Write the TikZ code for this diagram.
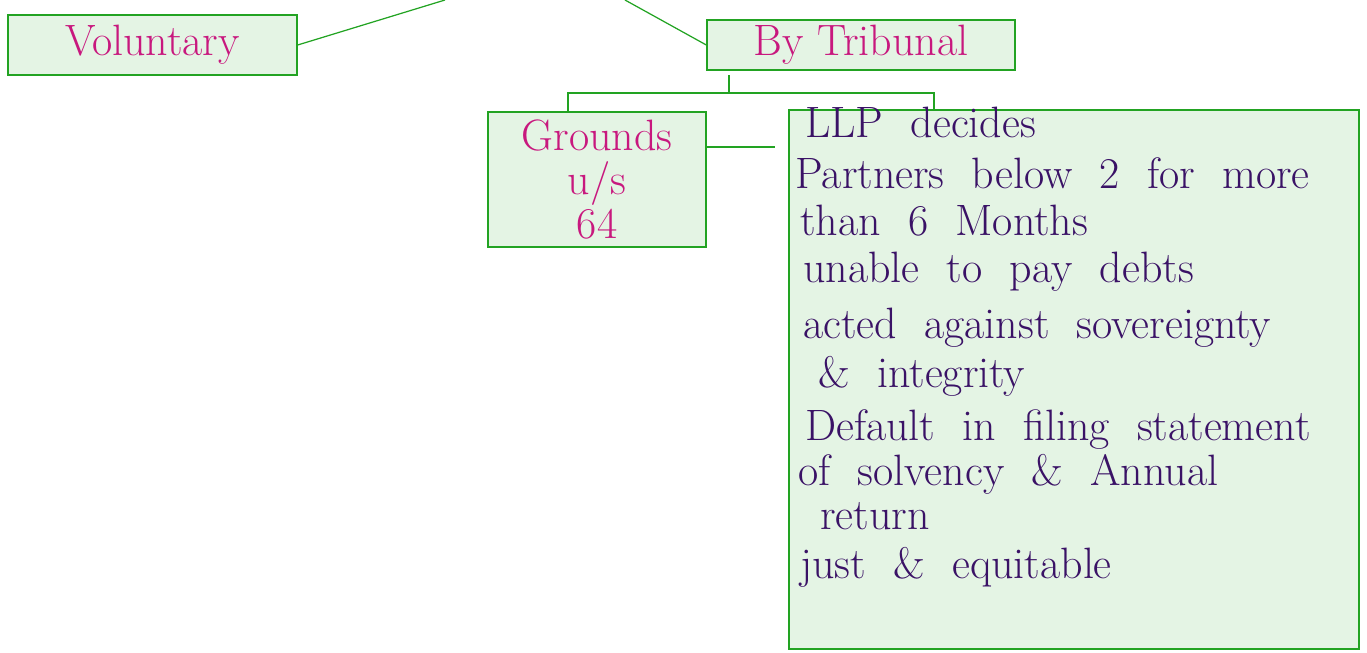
\documentclass[tikz,border=0pt]{standalone}
\usepackage{tikz}
\usepackage{xcolor}

\definecolor{boxgreen}{HTML}{22A322}
\definecolor{boxfill}{HTML}{E4F4E4}
\definecolor{inkpink}{HTML}{C8187E}
\definecolor{inkpurple}{HTML}{3A1266}

\newcommand{\wordgap}{\spaceskip=0.62em\relax}

\tikzset{
	box/.style={draw=boxgreen, fill=boxfill, line width=0.8pt, inner sep=0pt},
	link/.style={draw=boxgreen, line width=0.7pt},
	head/.style={text=inkpink, font=\fontsize{25}{25}\selectfont},
	point/.style={text=inkpurple, font=\fontsize{25}{25}\selectfont, anchor=base west, inner sep=0pt}
}

\begin{document}
\begin{tikzpicture}[x=0.02cm, y=-0.02cm]
	\useasboundingbox (0,0) rectangle (1367,653);
	% Boxes
	\node[box, head, minimum width=5.78cm, minimum height=1.2cm] (vol) at (152.5,45) {Voluntary};
	\node[box, head, minimum width=6.16cm, minimum height=1cm] (trib) at (861,45) {By Tribunal};
	\node[box, head, align=center, minimum width=4.36cm, minimum height=2.7cm] (grounds) at (597,179.5) {Grounds\\u/s\\64};
	\node[box, minimum width=11.4cm, minimum height=10.78cm] (llp) at (1074,379.5) {};
	% Free ends
	\coordinate (topL) at (445,0);
	\coordinate (topR) at (625,0);
	\coordinate (stem) at (729,75);
	\coordinate (fork) at (729,93);
	\coordinate (forkL) at (568,93);
	\coordinate (forkR) at (934,93);
	\coordinate (gap) at (775,147);
	% Connectors
	\draw[link] (vol.east) -- (topL);
	\draw[link] (topR) -- (trib.west);
	\draw[link] (stem) -- (fork);
	\draw[link] (forkL |- grounds.north) -- (forkL) -- (forkR) -- (forkR |- llp.north);
	\draw[link] (grounds.east |- gap) -- (gap);
	% Grounds listed in the big box
	\foreach \x/\y/\lbl [count=\i] in {805/137/LLP decides, 795/188/Partners below 2 for more,
		800/235/than 6 Months, 803/282/unable to pay debts, 803/338/acted against sovereignty,
		818/387/\& integrity, 805/440/Default in filing statement, 798/485/of solvency \& Annual,
		820/529/return, 800/578/just \& equitable}{
		\node[point] (line\i) at (\x,\y) {\wordgap\lbl};
	}
\end{tikzpicture}
\end{document}
